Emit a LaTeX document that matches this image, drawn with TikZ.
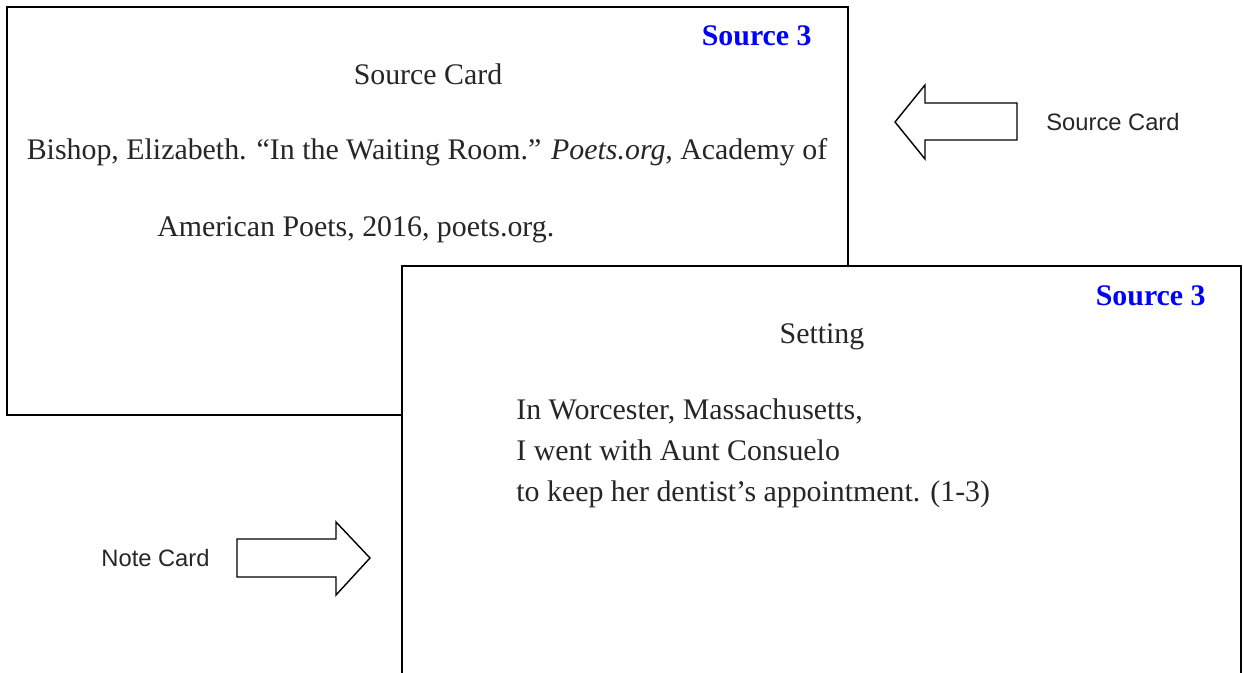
\documentclass[tikz,border=0pt]{standalone}
\usepackage{fontspec}
\setmainfont{Liberation Serif}
\setsansfont{Liberation Sans}
\usepackage{tikz}

\tikzset{
	card/.style={draw=black, line width=1.1pt, fill=white},
	blockarrow/.style={draw=black, line width=0.8pt, fill=white, line join=miter},
	cardtext/.style={font=\fontsize{17}{23.3}\selectfont, text=black!85},
	srcno/.style={font=\fontsize{17}{20}\selectfont\bfseries, text=blue, anchor=east, inner sep=0pt},
	sidelbl/.style={font=\sffamily\fontsize{13.5}{16}\selectfont, text=black!85}
}

\begin{document}
\begin{tikzpicture}
				
				\useasboundingbox (0,0) rectangle (24.88,13.44);
				\clip (0,0) rectangle (24.88,13.44);
				
				\draw[card] (0.14,5.14) rectangle (16.96,13.30);
				\node[srcno] (srcA) at (16.24,12.72) {Source 3};
				\node[cardtext] (titleA) at (8.56,11.96) {Source Card};
				\node[cardtext] (citeA) at (8.54,10.40) {Bishop, Elizabeth. “In the Waiting Room.” \textit{Poets.org}, Academy of};
				\node[cardtext, anchor=west, inner sep=0pt] (citeB) at (3.14,8.84) {American Poets, 2016, poets.org.};
				
				\draw[card] (8.04,-1) rectangle (24.82,8.12);
				\node[srcno] (srcB) at (24.12,7.52) {Source 3};
				\node[cardtext] (titleB) at (16.44,6.70) {Setting};
				\node[cardtext, anchor=west, align=left, inner sep=0pt] (quote) at (10.32,4.38) {In Worcester, Massachusetts,\\I went with Aunt Consuelo\\to keep her dentist’s appointment. (1-3)};
				
				\draw[blockarrow] (17.90,11.00) -- (18.50,11.74) -- (18.50,11.38) -- (20.34,11.38) -- (20.34,10.64) -- (18.50,10.64) -- (18.50,10.26) -- cycle;
				\node[sidelbl] (lblSrc) at (22.26,11.00) {Source Card};
				
				\draw[blockarrow] (7.40,2.28) -- (6.72,3.00) -- (6.72,2.66) -- (4.74,2.66) -- (4.74,1.90) -- (6.72,1.90) -- (6.72,1.54) -- cycle;
				\node[sidelbl] (lblNote) at (3.11,2.28) {Note Card};
				
\end{tikzpicture}
\end{document}
